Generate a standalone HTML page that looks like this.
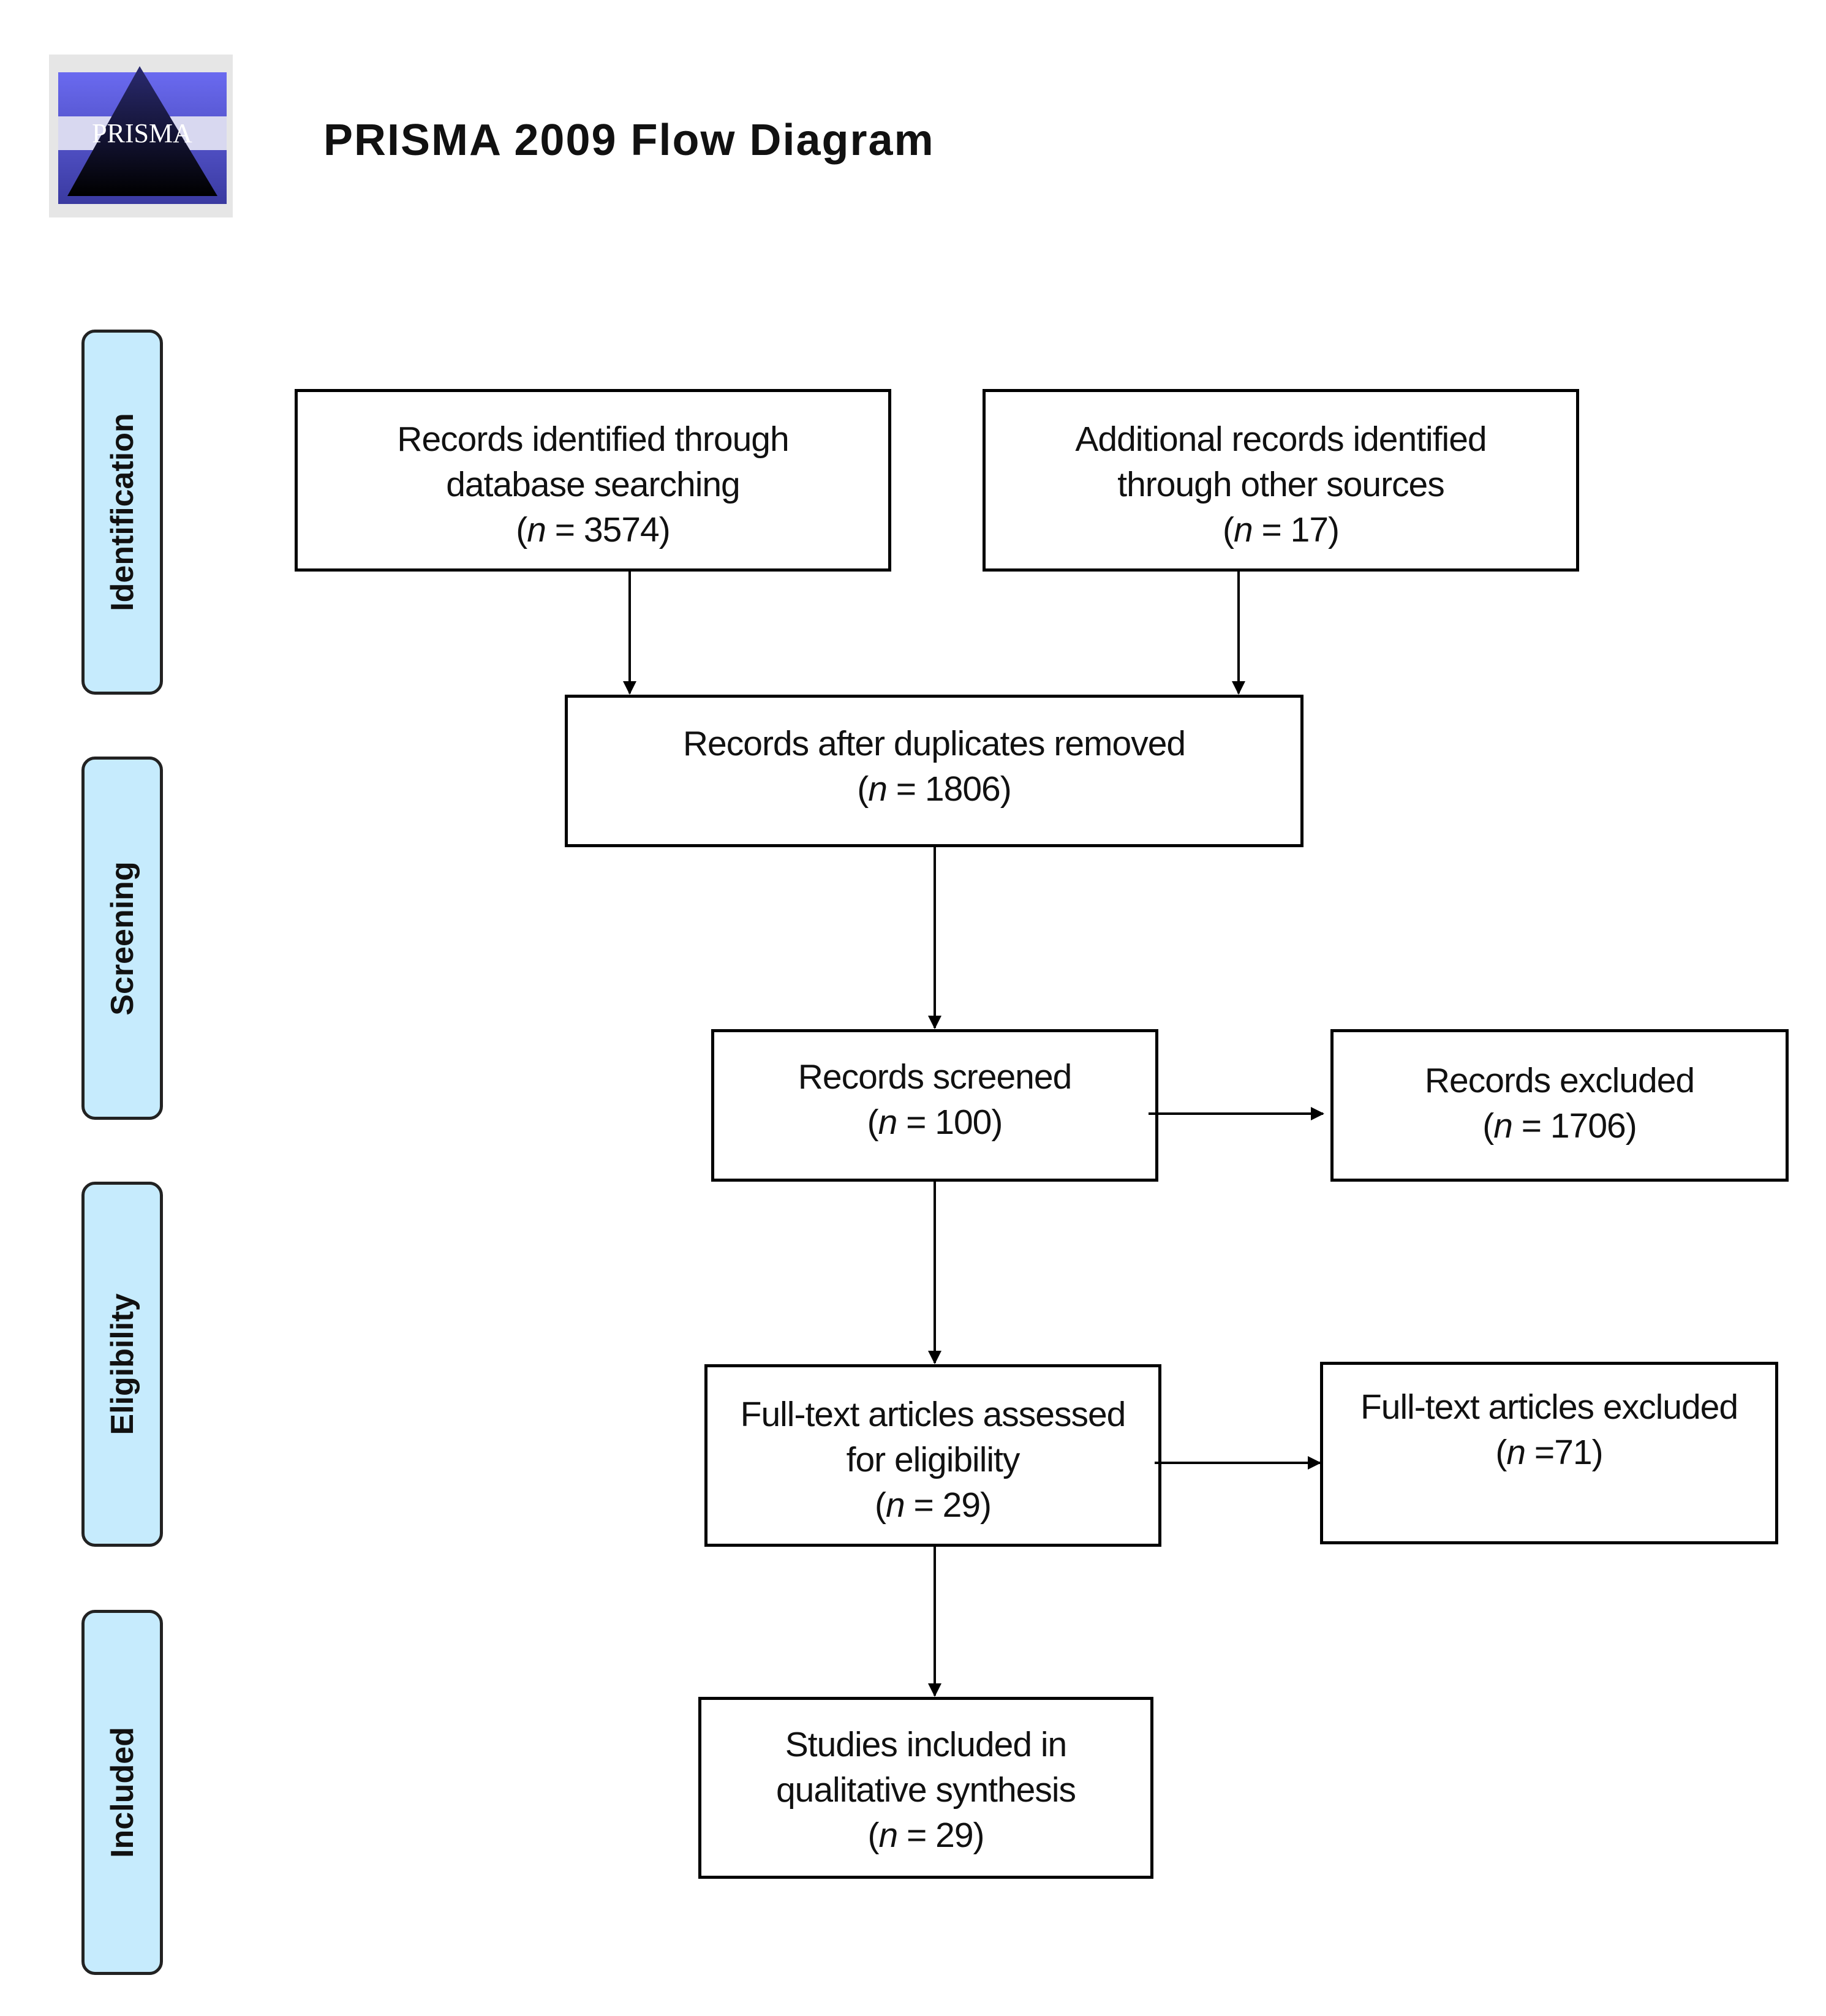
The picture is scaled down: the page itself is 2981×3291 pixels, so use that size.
<!DOCTYPE html>
<html><head><style>
body{margin:0;width:2981px;height:3291px;background:#fff;position:relative;font-family:"Liberation Sans",sans-serif;overflow:hidden}
.b{position:absolute;border:5px solid #000;box-sizing:border-box;display:block;text-align:center;font-size:57px;line-height:74px;color:#111;letter-spacing:-1px;white-space:nowrap}
.s{position:absolute;left:133px;width:133px;background:#c6ebfd;border:5px solid #222;border-radius:22px;box-sizing:border-box}
.s span{position:absolute;left:50%;top:50%;transform:translate(-50%,-50%) rotate(-90deg);font-weight:bold;font-size:52px;white-space:nowrap;color:#111}
i{font-style:italic}
</style></head><body>
<div style="position:absolute;left:80px;top:89px;width:300px;height:266px;background:#e6e6e6"></div>
<svg style="position:absolute;left:0;top:0" width="2981" height="3291">
<defs><linearGradient id="g" x1="0" y1="0" x2="0" y2="1"><stop offset="0" stop-color="#6a6af0"/><stop offset="1" stop-color="#3a3aa0"/></linearGradient>
<linearGradient id="t" x1="0" y1="0" x2="0" y2="1"><stop offset="0" stop-color="#2a2a70"/><stop offset="1" stop-color="#000"/></linearGradient>
<marker id="a" markerWidth="22" markerHeight="22" refX="20" refY="11" orient="auto" markerUnits="userSpaceOnUse" viewBox="0 0 22 22"><path d="M0,0L22,11L0,22z"/></marker></defs>
<rect x="95" y="118" width="275" height="215" fill="url(#g)"/>
<rect x="95" y="190" width="275" height="55" fill="#d8d8f0"/>
<polygon points="228,108 110,320 355,320" fill="url(#t)"/>
<text x="232" y="232" font-family="Liberation Serif" font-size="44" fill="#fff" text-anchor="middle">PRISMA</text>
<g stroke="#000" stroke-width="4" fill="none">
<line x1="1028" y1="933" x2="1028" y2="1132" marker-end="url(#a)"/>
<line x1="2022" y1="933" x2="2022" y2="1132" marker-end="url(#a)"/>
<line x1="1526" y1="1383" x2="1526" y2="1678" marker-end="url(#a)"/>
<line x1="1526" y1="1929" x2="1526" y2="2225" marker-end="url(#a)"/>
<line x1="1526" y1="2525" x2="1526" y2="2768" marker-end="url(#a)"/>
<line x1="1875" y1="1818" x2="2160" y2="1818" marker-end="url(#a)"/>
<line x1="1885" y1="2388" x2="2155" y2="2388" marker-end="url(#a)"/>
</g>
</svg>
<div style="position:absolute;left:528px;top:188px;font-size:72px;font-weight:bold;color:#111;letter-spacing:2px">PRISMA 2009 Flow Diagram</div>
<div class="s" style="top:538px;height:596px"><span>Identification</span></div>
<div class="s" style="top:1235px;height:593px"><span>Screening</span></div>
<div class="s" style="top:1929px;height:596px"><span>Eligibility</span></div>
<div class="s" style="top:2628px;height:596px"><span>Included</span></div>
<div class="b" style="left:481px;top:635px;width:974px;height:298px;padding-top:40px">Records identified through<br>database searching<br>(<i>n</i> = 3574)</div>
<div class="b" style="left:1604px;top:635px;width:974px;height:298px;padding-top:40px">Additional records identified<br>through other sources<br>(<i>n</i> = 17)</div>
<div class="b" style="left:922px;top:1134px;width:1206px;height:249px;padding-top:38px">Records after duplicates removed<br>(<i>n</i> = 1806)</div>
<div class="b" style="left:1161px;top:1680px;width:730px;height:249px;padding-top:36px">Records screened<br>(<i>n</i> = 100)</div>
<div class="b" style="left:2172px;top:1680px;width:748px;height:249px;padding-top:42px">Records excluded<br>(<i>n</i> = 1706)</div>
<div class="b" style="left:1150px;top:2227px;width:746px;height:298px;padding-top:40px">Full-text articles assessed<br>for eligibility<br>(<i>n</i> = 29)</div>
<div class="b" style="left:2155px;top:2223px;width:748px;height:298px;padding-top:32px">Full-text articles excluded<br>(<i>n</i> =71)</div>
<div class="b" style="left:1140px;top:2770px;width:743px;height:297px;padding-top:36px">Studies included in<br>qualitative synthesis<br>(<i>n</i> = 29)</div>
</body></html>
